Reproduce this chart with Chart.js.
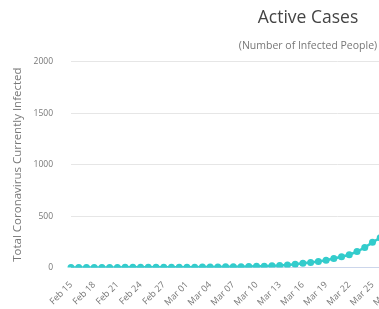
<!DOCTYPE html>
<html>
<head>
<meta charset="utf-8">
<script src="https://cdn.jsdelivr.net/npm/chart.js@4.4.1/dist/chart.umd.min.js"></script>
<style>
  html, body { margin: 0; padding: 0; background: #fff; overflow: hidden; }
  #wrap { width: 624px; height: 309px; }
</style>
</head>
<body>
<div id="wrap"><canvas id="activeChart"></canvas></div>
<script>
// Daily dates (2020); only every 3rd one is labelled on the axis
const dates = [
    'Feb 15', 'Feb 16', 'Feb 17', 'Feb 18', 'Feb 19', 'Feb 20', 'Feb 21', 'Feb 22', 'Feb 23', 'Feb 24',
    'Feb 25', 'Feb 26', 'Feb 27', 'Feb 28', 'Feb 29', 'Mar 01', 'Mar 02', 'Mar 03', 'Mar 04', 'Mar 05',
    'Mar 06', 'Mar 07', 'Mar 08', 'Mar 09', 'Mar 10', 'Mar 11', 'Mar 12', 'Mar 13', 'Mar 14', 'Mar 15',
    'Mar 16', 'Mar 17', 'Mar 18', 'Mar 19', 'Mar 20', 'Mar 21', 'Mar 22', 'Mar 23', 'Mar 24', 'Mar 25',
    'Mar 26', 'Mar 27', 'Mar 28', 'Mar 29', 'Mar 30', 'Mar 31', 'Apr 01', 'Apr 02', 'Apr 03', 'Apr 04',
    'Apr 05', 'Apr 06', 'Apr 07', 'Apr 08', 'Apr 09', 'Apr 10', 'Apr 11', 'Apr 12', 'Apr 13', 'Apr 14',
    'Apr 15', 'Apr 16', 'Apr 17', 'Apr 18', 'Apr 19', 'Apr 20', 'Apr 21', 'Apr 22', 'Apr 23', 'Apr 24'
];

const activeCases = [
    1, 1, 1, 1, 1, 1, 1, 2, 2, 2,
    2, 3, 3, 3, 3, 4, 4, 5, 5, 6,
    7, 8, 9, 10, 12, 14, 17, 20, 25, 32,
    42, 50, 60, 72, 88, 105, 125, 155, 195, 245,
    290
];

const yTicks = [0, 500, 1000, 1500, 2000];

const grey = '#777';
const teal = '#33cccc';

const ctx = document.getElementById('activeChart').getContext('2d');
const activeChart = new Chart(ctx, {
    type: 'line',
    data: {
        labels: dates,
        datasets: [{
            label: 'Active Cases',
            data: activeCases,
            borderColor: teal,
            backgroundColor: teal,
            borderWidth: 2.5,
            pointRadius: 3.5,
            pointBorderWidth: 0,
            pointBackgroundColor: teal,
            tension: 0
        }]
    },
    options: {
        responsive: true,
        maintainAspectRatio: false,
        animation: false,
        layout: {
            // the first rotated label hangs out past the plot edge, as in the original
            autoPadding: false,
            padding: { left: 11, right: 19, top: 5, bottom: -11 }
        },
        plugins: {
            legend: { display: false },
            tooltip: { enabled: false },
            title: {
                display: true,
                text: 'Active Cases',
                color: '#444',
                font: { family: 'Open Sans', size: 17.5, weight: 'normal' },
                padding: { top: 3, bottom: 6 }
            },
            subtitle: {
                display: true,
                text: '(Number of Infected People)',
                color: grey,
                font: { family: 'Open Sans', size: 10.5 },
                padding: { top: 5, bottom: 9 }
            }
        },
        scales: {
            x: {
                offset: false,
                grid: { display: false, drawTicks: false },
                border: { color: '#ccd6eb' },
                ticks: {
                    autoSkip: false,
                    maxRotation: 45,
                    minRotation: 45,
                    padding: 12,
                    color: grey,
                    font: { family: 'Open Sans', size: 9 },
                    callback: function (value, index) {
                        return index % 3 === 0 ? dates[index] : '';
                    }
                }
            },
            y: {
                min: yTicks[0],
                max: yTicks[yTicks.length - 1],
                afterBuildTicks: function (axis) {
                    axis.ticks = yTicks.map(v => ({ value: v }));
                },
                afterFit: function (axis) {
                    axis.width = 60;
                },
                grid: { color: '#e6e6e6', drawTicks: false },
                border: { display: false },
                ticks: {
                    padding: 18,
                    color: grey,
                    font: { family: 'Open Sans', size: 8.5 },
                    callback: function (value) {
                        return String(value);
                    }
                },
                title: {
                    display: true,
                    text: 'Total Coronavirus Currently Infected',
                    color: grey,
                    font: { family: 'Open Sans', size: 11.5 },
                    padding: { top: 0, bottom: 9 }
                }
            }
        }
    }
});
</script>
</body>
</html>
